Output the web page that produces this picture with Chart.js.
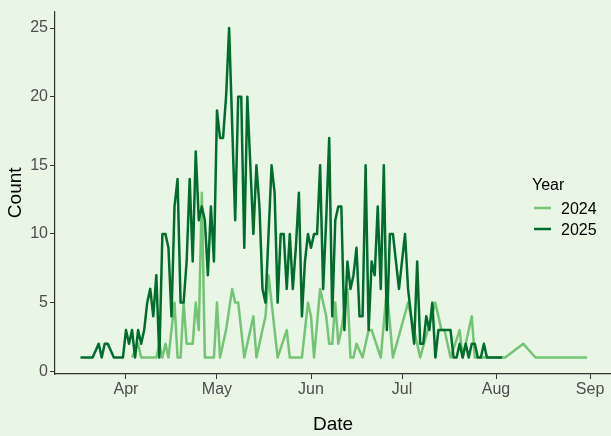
<!DOCTYPE html>
<html>
<head>
<meta charset="utf-8">
<script src="https://cdn.jsdelivr.net/npm/chart.js@4.4.1/dist/chart.umd.min.js"></script>
<style>
  html, body { margin: 0; padding: 0; background: #E9F6E5; }
  canvas { display: block; }
</style>
</head>
<body>
<canvas id="chart" width="611" height="436"></canvas>
<script>
// daily counts, dates as month-day
const dates2025 = ["03-17","03-21","03-23","03-24","03-25","03-26","03-28","03-31",
  "04-01","04-02","04-03","04-04","04-05","04-06","04-07","04-08","04-09","04-10",
  "04-11","04-12","04-13","04-14","04-15","04-16","04-17","04-18","04-19","04-20",
  "04-21","04-22","04-23","04-24","04-25","04-26","04-27","04-28","04-29","04-30",
  "05-01","05-02","05-03","05-04","05-05","05-06","05-07","05-08","05-09","05-10",
  "05-11","05-12","05-13","05-14","05-15","05-16","05-17","05-18","05-19","05-20",
  "05-21","05-22","05-23","05-24","05-25","05-26","05-27","05-28","05-29","05-30","05-31",
  "06-01","06-02","06-03","06-04","06-05","06-06","06-07","06-08","06-09","06-10",
  "06-11","06-12","06-13","06-14","06-15","06-16","06-17","06-18","06-19","06-20",
  "06-21","06-22","06-23","06-24","06-25","06-26","06-27","06-28","06-29","06-30",
  "07-01","07-02","07-03","07-04","07-05","07-06","07-07","07-08","07-09","07-10",
  "07-11","07-12","07-13","07-17","07-18","07-19","07-20","07-21","07-22","07-23",
  "07-24","07-25","07-26","07-27","07-28","07-29","08-03"];
const counts2025 = [1,1,2,1,2,2,1,1,
  3,2,3,1,3,2,3,5,6,4,
  7,1,10,10,9,4,12,14,5,5,
  8,14,8,16,11,12,11,7,12,8,
  19,17,17,20,25,18,11,20,20,9,
  20,15,10,15,12,6,5,10,15,13,
  5,10,10,6,10,6,9,13,4,8,10,
  9,10,10,15,6,11,17,4,11,12,
  12,3,8,6,7,9,4,4,15,3,
  8,7,12,6,15,3,10,10,8,6,
  8,10,6,4,2,8,2,2,4,3,
  5,1,3,3,1,1,2,1,2,1,
  2,2,1,1,2,1,1];

const dates2024 = ["04-03","04-05","04-06","04-11","04-12","04-13","04-14","04-15",
  "04-17","04-18","04-19","04-20","04-21","04-23","04-24","04-25","04-26","04-27","04-30",
  "05-01","05-02","05-04","05-06","05-07","05-08","05-10","05-13","05-14","05-17","05-18",
  "05-21","05-24","05-25","05-29","05-31","06-01","06-02","06-04","06-06","06-07","06-08",
  "06-09","06-10","06-11","06-13","06-14","06-15","06-16","06-18","06-20","06-21","06-24",
  "06-26","06-28","07-03","07-07","07-12","07-14","07-15","07-17","07-20","07-21","07-24",
  "07-25","08-04","08-10","08-14","08-31"];
const counts2024 = [1,2,1,1,2,1,2,1,
  5,1,1,5,2,2,5,3,13,1,1,
  5,1,3,6,5,5,1,4,1,4,7,
  1,3,1,1,5,4,1,6,4,2,2,
  5,2,3,6,1,1,2,1,3,3,1,
  6,1,5,1,5,3,3,1,3,1,4,
  1,1,2,1,1];

const monthLabels = ["Apr","May","Jun","Jul","Aug","Sep"];
const monthDates = ["04-01","05-01","06-01","07-01","08-01","09-01"];
const countTicks = [0,5,10,15,20,25];

const monthStart = [0,31,59,90,120,151,181,212,243,273,304,334];
function dayOfYear(md) {
  const [m, d] = md.split("-").map(Number);
  return monthStart[m - 1] + d - 1;
}
function toPoints(dates, counts) {
  return dates.map((d, i) => ({ x: dayOfYear(d), y: counts[i] }));
}
const monthDays = monthDates.map(dayOfYear);

const legendPlugin = {
  id: "yearLegend",
  afterDraw(chart) {
    const ctx = chart.ctx;
    ctx.save();
    ctx.fillStyle = "#000";
    ctx.font = "16px 'Liberation Sans', Arial, sans-serif";
    ctx.textBaseline = "alphabetic";
    ctx.fillText("Year", 532, 190);
    const items = [["2024", "#74C476", 208], ["2025", "#006D2C", 229]];
    items.forEach(([label, color, y]) => {
      ctx.strokeStyle = color;
      ctx.lineWidth = 2.5;
      ctx.beginPath();
      ctx.moveTo(534, y);
      ctx.lineTo(551, y);
      ctx.stroke();
      ctx.fillStyle = "#000";
      ctx.fillText(label, 561, y + 6);
    });
    ctx.restore();
  }
};

const axisColor = "#333333";
const tickFont = { family: "'Liberation Sans', Arial, sans-serif", size: 16 };
const titleFont = { family: "'Liberation Sans', Arial, sans-serif", size: 19 };

new Chart(document.getElementById("chart"), {
  type: "line",
  data: {
    datasets: [
      {
        label: "2024",
        data: toPoints(dates2024, counts2024),
        borderColor: "#74C476",
        borderWidth: 2.5,
        pointRadius: 0,
        borderJoinStyle: "round",
        tension: 0,
        order: 1
      },
      {
        label: "2025",
        data: toPoints(dates2025, counts2025),
        borderColor: "#006D2C",
        borderWidth: 2.5,
        pointRadius: 0,
        borderJoinStyle: "round",
        tension: 0,
        order: 0
      }
    ]
  },
  options: {
    responsive: false,
    animation: false,
    layout: { padding: { top: 7, right: 0, left: 0, bottom: 0 } },
    plugins: { legend: { display: false }, tooltip: { enabled: false } },
    scales: {
      x: {
        type: "linear",
        min: 66.6,
        max: 249.9,
        afterBuildTicks: (scale) => { scale.ticks = monthDays.map(v => ({ value: v })); },
        afterFit: (scale) => { scale.height = 62; },
        ticks: {
          autoSkip: false,
          maxRotation: 0,
          padding: 1,
          color: "#4D4D4D",
          font: tickFont,
          callback: (v) => monthLabels[monthDays.indexOf(v)]
        },
        grid: { drawOnChartArea: false, drawTicks: true, tickLength: 5, color: axisColor },
        border: { display: true, color: axisColor, width: 1.2 },
        title: { display: true, text: "Date", color: "#000", font: titleFont, padding: { top: 0, bottom: 0 } }
      },
      y: {
        min: -0.2,
        max: 26.2,
        afterBuildTicks: (scale) => { scale.ticks = countTicks.map(v => ({ value: v })); },
        afterFit: (scale) => { scale.width = 55; },
        ticks: { padding: 2, color: "#4D4D4D", font: tickFont },
        grid: { drawOnChartArea: false, drawTicks: true, tickLength: 5, color: axisColor },
        border: { display: true, color: axisColor, width: 1.2 },
        title: { display: true, text: "Count", color: "#000", font: titleFont, padding: { top: 4, bottom: 0 } }
      }
    }
  },
  plugins: [legendPlugin]
});
</script>
</body>
</html>
